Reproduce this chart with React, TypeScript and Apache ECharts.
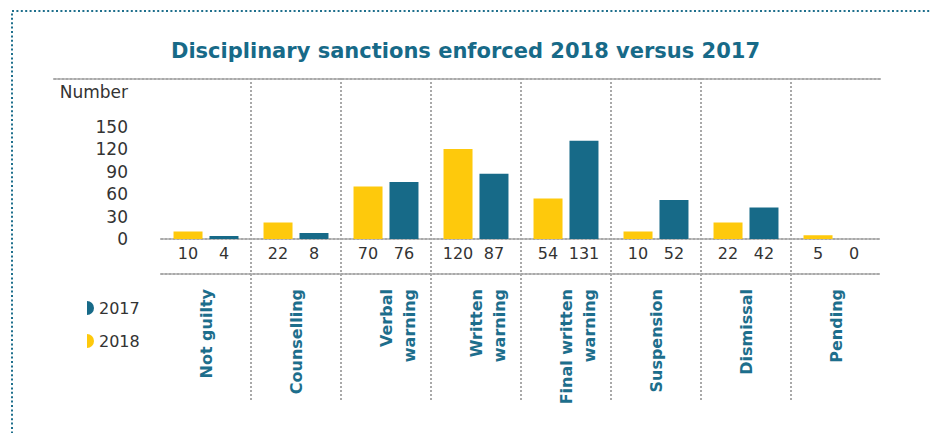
import React, { useEffect, useRef } from 'react';
import * as echarts from 'echarts';

const titleText = 'Disciplinary sanctions enforced 2018 versus 2017';
const yAxisName = 'Number';
const categories = [
  'Not guilty',
  'Counselling',
  'Verbal\nwarning',
  'Written\nwarning',
  'Final written\nwarning',
  'Suspension',
  'Dismissal',
  'Pending',
];
const values2018 = [10, 22, 70, 120, 54, 10, 22, 5];
const values2017 = [4, 8, 76, 87, 131, 52, 42, 0];
const legendNames = ['2017', '2018'];
const yMin = 0;
const yMax = 150;
const yInterval = 30;

const FONT = '"DejaVu Sans", sans-serif';
const TEAL = '#176a88';
const LABEL_TEAL = '#1d6e8c';
const YELLOW = '#fec90c';
const GREY = '#a9a9a9';
const TEXT = '#333333';
const DOT = [2, 2];

export default function App() {
  const ref = useRef<HTMLDivElement>(null);

  useEffect(() => {
    if (!ref.current) return;
    const chart = echarts.init(ref.current, undefined, { renderer: 'svg' });

    const dottedLine = { show: true, lineStyle: { color: GREY, width: 2, type: DOT } };
    const none = { show: false };

    chart.setOption({
      animation: false,
      textStyle: { fontFamily: FONT },
      title: {
        text: titleText,
        left: 'center',
        top: 40,
        padding: 0,
        textStyle: { color: TEAL, fontSize: 21, fontWeight: 'bold', fontFamily: FONT },
      },
      legend: {
        orient: 'vertical',
        left: 82,
        top: 295,
        itemWidth: 7,
        itemHeight: 14,
        itemGap: 17,
        data: legendNames.map((n) => ({
          name: n,
          icon: 'path://M0,0 A1,1 0 0,1 0,2 Z',
        })),
        textStyle: { color: TEXT, fontSize: 16, fontFamily: FONT },
      },
      grid: [
        { left: 161, right: 50, top: 126.5, height: 112.5 },
        { left: 161, right: 50, top: 78, height: 322 },
        { left: 54, right: 51, top: 78, height: 1 },
      ],
      xAxis: [
        {
          type: 'category',
          gridIndex: 0,
          data: categories,
          axisLine: dottedLine,
          axisTick: none,
          axisLabel: {
            interval: 0,
            rotate: 90,
            margin: 50,
            color: LABEL_TEAL,
            fontWeight: 'bold',
            fontSize: 16,
            lineHeight: 23,
            fontFamily: FONT,
            formatter: (v: string) => (v.includes('\n') ? '\n' + v : v),
          },
        },
        {
          type: 'category',
          gridIndex: 0,
          position: 'bottom',
          offset: 35,
          data: categories,
          axisLine: dottedLine,
          axisTick: none,
          axisLabel: none,
        },
        {
          type: 'category',
          gridIndex: 1,
          data: categories,
          axisLine: none,
          axisTick: none,
          axisLabel: none,
          splitLine: {
            show: true,
            interval: 0,
            showMinLine: false,
            showMaxLine: false,
            lineStyle: { color: GREY, width: 2, type: DOT },
          },
        },
        {
          type: 'category',
          gridIndex: 2,
          position: 'top',
          data: [''],
          axisLine: dottedLine,
          axisTick: none,
          axisLabel: none,
        },
      ],
      yAxis: [
        {
          type: 'value',
          gridIndex: 0,
          min: yMin,
          max: yMax,
          interval: yInterval,
          name: yAxisName,
          nameLocation: 'end',
          nameGap: 34.5,
          nameTextStyle: {
            color: TEXT,
            fontSize: 17,
            align: 'right',
            verticalAlign: 'middle',
            padding: [0, 33, 0, 0],
            fontFamily: FONT,
          },
          axisLine: none,
          axisTick: none,
          splitLine: none,
          axisLabel: { color: TEXT, fontSize: 17, margin: 33, fontFamily: FONT },
        },
        { type: 'value', gridIndex: 1, show: false },
        { type: 'value', gridIndex: 2, show: false },
      ],
      series: [
        {
          name: '2018',
          type: 'bar',
          xAxisIndex: 0,
          yAxisIndex: 0,
          data: values2018,
          barWidth: 29,
          barGap: '24%',
          itemStyle: { color: YELLOW },
          label: {
            show: true,
            position: 'bottom',
            distance: 6,
            color: TEXT,
            fontSize: 16,
            fontFamily: FONT,
          },
        },
        {
          name: '2017',
          type: 'bar',
          xAxisIndex: 0,
          yAxisIndex: 0,
          data: values2017,
          barWidth: 29,
          barGap: '24%',
          itemStyle: { color: TEAL },
          label: {
            show: true,
            position: 'bottom',
            distance: 6,
            color: TEXT,
            fontSize: 16,
            fontFamily: FONT,
          },
        },
      ],
      graphic: [
        {
          type: 'rect',
          silent: true,
          shape: { x: 12, y: 11, width: 1200, height: 1000 },
          style: { fill: 'none', stroke: '#1e6f8c', lineWidth: 2, lineDash: [2, 2.4] },
        },
      ],
    });

    return () => chart.dispose();
  }, []);

  return (
    <div
      ref={ref}
      style={{ position: 'fixed', left: 0, top: 0, width: 931, height: 433, background: '#fff' }}
    />
  );
}
